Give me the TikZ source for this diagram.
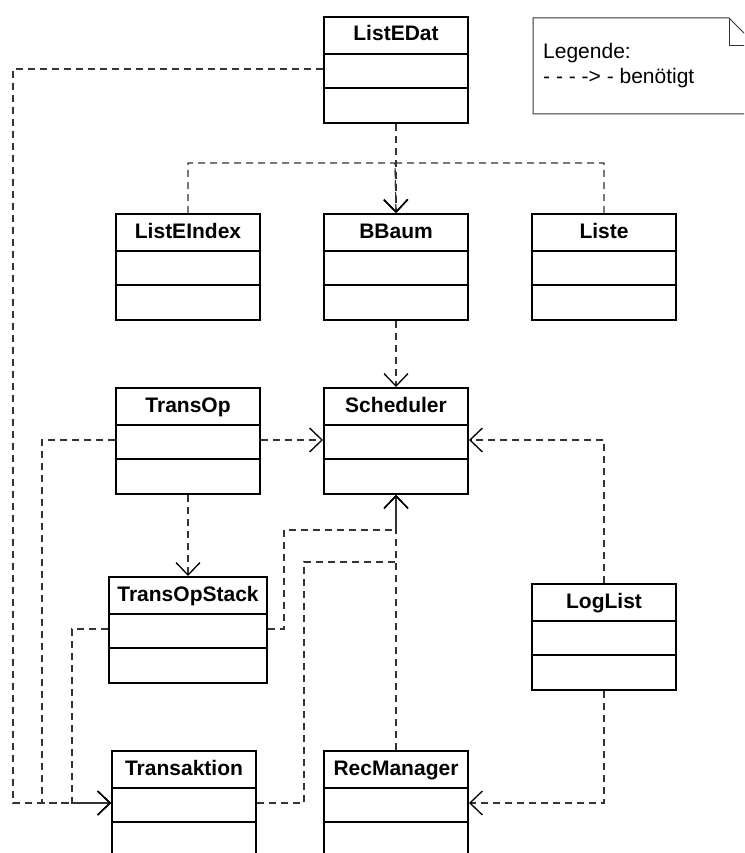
\documentclass[tikz,border=0pt]{standalone}
\usepackage{fontspec}
\setmainfont{Liberation Sans}
\usetikzlibrary{arrows.meta}

\tikzset{
  classbox/.style={draw=black, line width=2pt, fill=white, inner sep=0pt,
                   minimum height=106pt, anchor=north west},
  classline/.style={draw=black, line width=2pt},
  classname/.style={font=\fontsize{21}{25}\selectfont\bfseries, anchor=base, inner sep=0pt},
  link/.style={draw=black!80, line width=1.2pt, dash pattern=on 7pt off 5pt},
  dep/.style={link, -{Straight Barb[length=12.5pt,width=24pt,line width=1.3pt,color=black]}},
  notebox/.style={draw=black!80, line width=1pt, fill=white},
  notetext/.style={font=\fontsize{21}{25}\selectfont, anchor=base west, inner sep=0pt},
}

% class box: name, left x, top y, width, title
\newcommand\umlclass[5]{%
  \node[classbox, minimum width=#4] (#1) at (#2,#3) {};
  \draw[classline] ([yshift=-38pt]#1.north west) -- ([yshift=-38pt]#1.north east);
  \draw[classline] ([yshift=-72pt]#1.north west) -- ([yshift=-72pt]#1.north east);
  \node[classname] (#1-t) at ([yshift=-25pt]#1.north) {#5};
  \coordinate (#1-w) at ([yshift=-53pt]#1.north west);
  \coordinate (#1-e) at ([yshift=-53pt]#1.north east);
}

\begin{document}
\begin{tikzpicture}[x=1pt, y=-1pt]
  \useasboundingbox (0,0) rectangle (744,853);
  \fill[white] (0,0) rectangle (744,853);
  \clip (0,0) rectangle (744,853);

  % legend note with folded corner
  \draw[notebox] (533,18) -- (729,18) -- (757,46) -- (757,114) -- (533,114) -- cycle;
  \draw[notebox, fill=none] (729,18) -- (729,46) -- (757,46);
  \node[notetext] (legend1) at (543,59) {Legende:};
  \node[notetext] (legend2) at (543,84) {- - - -> - benötigt};

  % classes
  \umlclass{ListEDat}{323}{16}{144pt}{ListEDat}
  \umlclass{ListEIndex}{115}{213}{144pt}{ListEIndex}
  \umlclass{BBaum}{323}{213}{144pt}{BBaum}
  \umlclass{Liste}{531}{213}{144pt}{Liste}
  \umlclass{TransOp}{115}{387}{144pt}{TransOp}
  \umlclass{Scheduler}{323}{387}{144pt}{Scheduler}
  \umlclass{TransOpStack}{108}{576}{158pt}{TransOpStack}
  \umlclass{LogList}{531}{583}{144pt}{LogList}
  \umlclass{Transaktion}{111}{750}{144pt}{Transaktion}
  \umlclass{RecManager}{323}{750}{144pt}{RecManager}

  % bends and rails of the dependency lines
  \coordinate (bus) at (395,163);
  \coordinate (railA) at (13,0);
  \coordinate (railB) at (42,0);
  \coordinate (railC) at (72,0);
  \coordinate (bendC) at (284,530);
  \coordinate (bendD) at (304,562);

  % dependencies
  \draw[dep] (ListEDat.south) -- (BBaum.north);
  \draw[dep] (ListEIndex.north) |- (bus) -- (BBaum.north);
  \draw[dep] (Liste.north) |- (bus) -- (BBaum.north);
  \draw[dep] (BBaum.south) -- (Scheduler.north);
  \draw[dep] (TransOp-e) -- (Scheduler-w);
  \draw[dep] (TransOp.south) -- (TransOpStack.north);
  \draw[dep] (LogList.north) |- (Scheduler-e);
  \draw[dep] (TransOpStack-e) -| (bendC) -| (Scheduler.south);
  \draw[dep] (Transaktion-e) -| (bendD) -| (Scheduler.south);
  \draw[dep] (RecManager.north) -- (Scheduler.south);
  \draw[dep] (LogList.south) |- (RecManager-e);
  \draw[dep] (ListEDat-w) -| (railA |- Transaktion-w) -- (Transaktion-w);
  \draw[dep] (TransOp-w) -| (railB |- Transaktion-w) -- (Transaktion-w);
  \draw[dep] (TransOpStack-w) -| (railC |- Transaktion-w) -- (Transaktion-w);
\end{tikzpicture}
\end{document}
